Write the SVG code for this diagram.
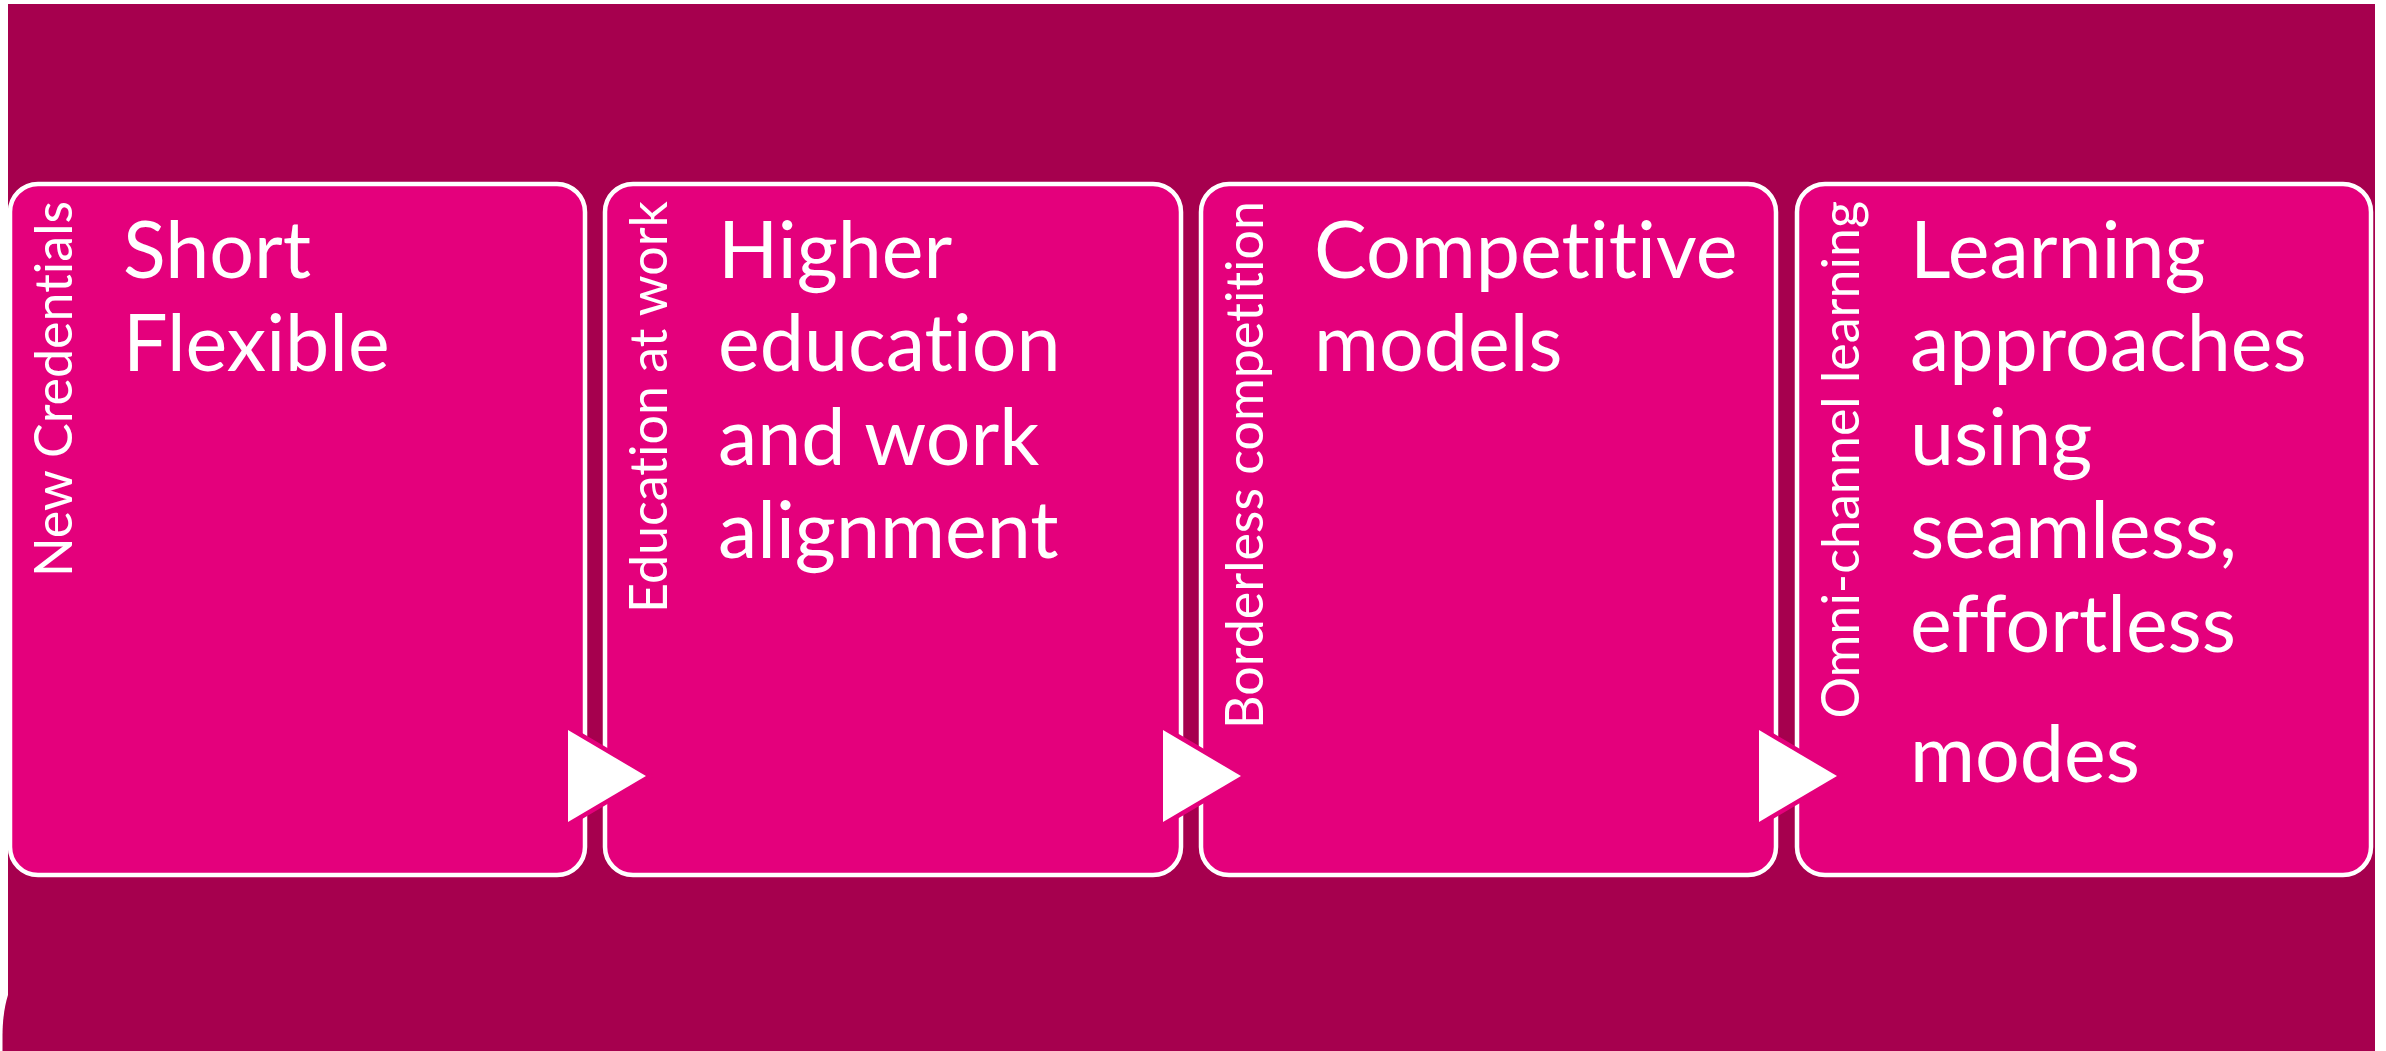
<svg xmlns="http://www.w3.org/2000/svg" width="2386" height="1051" viewBox="0 0 2386 1051">
  <style>
    .bg { fill: #A6004E; }
    .box { fill: #E4007C; stroke: #FFFFFF; stroke-width: 4.5; }
    text { font-variant-ligatures: none; font-feature-settings: "liga" 0, "clig" 0; }
    .side { font-family: Lato, "Open Sans", sans-serif; font-size: 52px; fill: #FFFFFF; text-anchor: end; }
    .main { font-family: Lato, "Open Sans", sans-serif; font-size: 79px; fill: #FFFFFF; }
    .arrow { fill: #FFFFFF; stroke: #E4007C; stroke-width: 9; paint-order: stroke; stroke-linejoin: miter; }
  </style>
  <rect width="2386" height="1051" fill="#FFFFFF"/>
  <g id="background">
    <rect class="bg" x="8" y="4" width="2367" height="1047"/>
    <path class="bg" d="M8,995 C4.5,1006 2.5,1020 2.5,1036 L2.5,1051 L8,1051 Z"/>
  </g>
  <g id="node-1">
    <rect class="box" x="10" y="184" width="575" height="691" rx="28" ry="28"/>
    <text class="side" transform="translate(72,201) rotate(-90)">New Credentials</text>
    <text class="main"><tspan x="123" y="278">Short</tspan><tspan x="123" y="371">Flexible</tspan></text>
  </g>
  <g id="node-2">
    <rect class="box" x="605" y="184" width="576" height="691" rx="28" ry="28"/>
    <text class="side" transform="translate(667,201) rotate(-90)">Education at work</text>
    <text class="main"><tspan x="718" y="278">Higher</tspan><tspan x="718" y="371">education</tspan><tspan x="718" y="465">and work</tspan><tspan x="718" y="558">alignment</tspan></text>
  </g>
  <g id="node-3">
    <rect class="box" x="1201" y="184" width="575" height="691" rx="28" ry="28"/>
    <text class="side" transform="translate(1263,201) rotate(-90)">Borderless competition</text>
    <text class="main"><tspan x="1314" y="278">Competitive</tspan><tspan x="1314" y="371">models</tspan></text>
  </g>
  <g id="node-4">
    <rect class="box" x="1797" y="184" width="574" height="691" rx="28" ry="28"/>
    <text class="side" transform="translate(1859,201) rotate(-90)">Omni-channel learning</text>
    <text class="main"><tspan x="1910" y="278">Learning</tspan><tspan x="1910" y="371">approaches</tspan><tspan x="1910" y="465">using</tspan><tspan x="1910" y="558">seamless,</tspan><tspan x="1910" y="652">effortless</tspan><tspan x="1910" y="782">modes</tspan></text>
  </g>
  <g id="connectors">
    <polygon class="arrow" points="568,730 646,776 568,822"/>
    <polygon class="arrow" points="1163,730 1241,776 1163,822"/>
    <polygon class="arrow" points="1759,730 1837,776 1759,822"/>
  </g>
</svg>
